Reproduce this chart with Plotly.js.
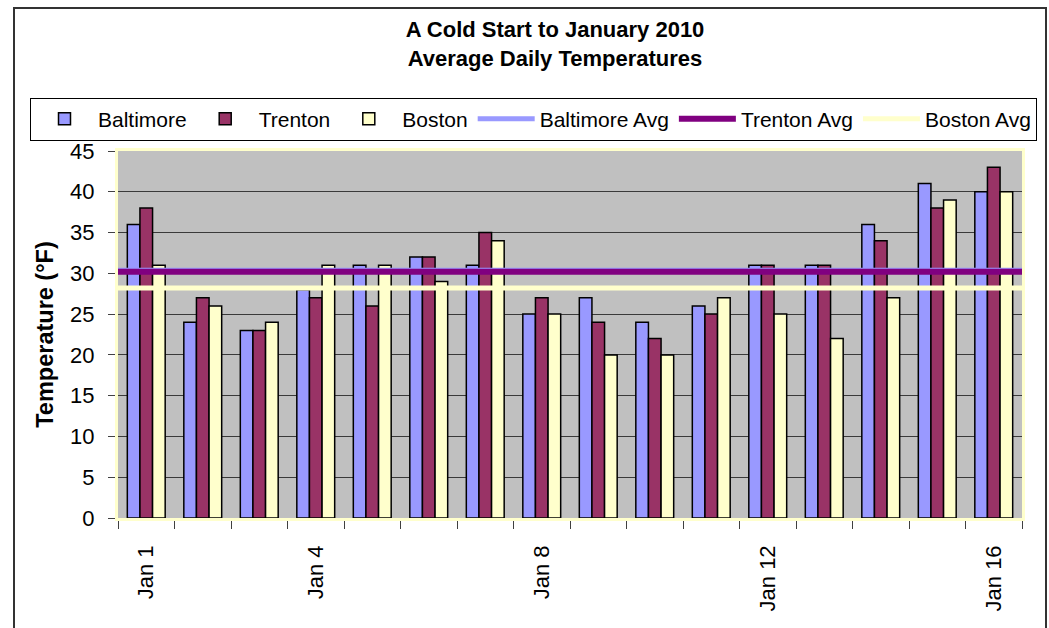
<!DOCTYPE html>
<html>
<head>
<meta charset="utf-8">
<script src="https://cdn.plot.ly/plotly-3.0.1.min.js"></script>
<style>
  html, body { margin: 0; padding: 0; background: #ffffff; }
  #chart { width: 1049px; height: 628px; }
</style>
</head>
<body>
<div id="chart"></div>
<script>
// ---- data ----
const days = ["Jan 1","Jan 2","Jan 3","Jan 4","Jan 5","Jan 6","Jan 7","Jan 8",
              "Jan 9","Jan 10","Jan 11","Jan 12","Jan 13","Jan 14","Jan 15","Jan 16"];
const baltimore = [36, 24, 23, 28, 31, 32, 31, 25, 27, 24, 26, 31, 31, 36, 41, 40];
const trenton   = [38, 27, 23, 27, 26, 32, 35, 27, 24, 22, 25, 31, 31, 34, 38, 43];
const boston    = [31, 26, 24, 31, 31, 29, 34, 25, 20, 20, 27, 25, 22, 27, 39, 40];
const labeledDays = ["Jan 1", "Jan 4", "Jan 8", "Jan 12", "Jan 16"];
const yTicks = [0, 5, 10, 15, 20, 25, 30, 35, 40, 45];

const mean = a => a.reduce((s, v) => s + v, 0) / a.length;

const FONT = "Liberation Sans, Arial, sans-serif";
const colBalt = "#9999FF", colTren = "#993366", colBos = "#FFFFCC";

function barTrace(name, vals, color) {
  return {
    type: "bar", name: name, x: days, y: vals,
    marker: { color: color, line: { color: "#000000", width: 1.5 } },
    xaxis: "x", yaxis: "y", hoverinfo: "x+y+name"
  };
}
function avgTrace(name, vals, color, width) {
  const m = mean(vals);
  return {
    type: "scatter", mode: "lines", name: name,
    x: [0.5, days.length + 0.5], y: [m, m],
    line: { color: color, width: width },
    xaxis: "x2", yaxis: "y", hoverinfo: "y+name"
  };
}

const traces = [
  barTrace("Baltimore", baltimore, colBalt),
  barTrace("Trenton", trenton, colTren),
  barTrace("Boston", boston, colBos),
  avgTrace("Baltimore Avg", baltimore, colBalt, 5),
  avgTrace("Trenton Avg", trenton, "#800080", 6),
  avgTrace("Boston Avg", boston, colBos, 5)
];

const L = 118, R = 27, T = 151, B = 110;
const W = 1049, H = 628;
const pw = W - L - R, ph = H - T - B;
const px = x => (x - L) / pw;          // pixel -> paper x
const py = y => (H - B - y) / ph;      // pixel -> paper y

const layout = {
  width: W, height: H,
  margin: { l: L, r: R, t: T, b: B, pad: 0 },
  paper_bgcolor: "#ffffff",
  plot_bgcolor: "#C0C0C0",
  font: { family: FONT, color: "#000000", size: 20 },
  title: {
    text: "A Cold Start to January 2010<br>Average Daily Temperatures",
    font: { family: FONT, size: 22, weight: "bold", color: "#000000" },
    xref: "container", yref: "container",
    x: 555 / W, xanchor: "center",
    y: 1 - 37 / H, yanchor: "middle"
  },
  barmode: "group",
  bargap: 0.33,
  bargroupgap: 0,
  showlegend: true,
  legend: {
    orientation: "h",
    x: px(30), xanchor: "left",
    y: py(119), yanchor: "middle",
    bgcolor: "#ffffff",
    bordercolor: "#000000", borderwidth: 1,
    font: { family: FONT, size: 21, color: "#000000" },
    itemwidth: 57,
    traceorder: "normal"
  },
  xaxis: {
    type: "category",
    categoryorder: "array", categoryarray: days,
    range: [-0.5, days.length - 0.5],
    tickson: "boundaries",
    ticks: "outside", ticklen: 8, tickcolor: "#404040", tickwidth: 1,
    showticklabels: false,
    showgrid: false, zeroline: false,
    showline: true, linecolor: "#FFFFCC", linewidth: 3, mirror: true,
    fixedrange: true
  },
  xaxis2: {
    overlaying: "x", side: "bottom",
    type: "linear",
    range: [0.5, days.length + 0.5],
    tickmode: "array",
    tickvals: labeledDays.map(d => days.indexOf(d) + 1),
    ticktext: labeledDays,
    tickangle: -90,
    ticks: "", showgrid: false, zeroline: false, showline: false,
    tickfont: { family: FONT, size: 22, color: "#000000" },
    ticklabelstandoff: 22,
    fixedrange: true
  },
  yaxis: {
    range: [0, 45],
    tickmode: "array", tickvals: yTicks,
    ticks: "outside", ticklen: 7, tickcolor: "#404040", tickwidth: 1,
    tickfont: { family: FONT, size: 22, color: "#000000" },
    ticklabelstandoff: 9,
    showgrid: true, gridcolor: "#3a3a3a", gridwidth: 1,
    zeroline: true, zerolinecolor: "#3a3a3a", zerolinewidth: 1,
    showline: true, linecolor: "#FFFFCC", linewidth: 3, mirror: true,
    title: {
      text: "Temperature (°F)",
      font: { family: FONT, size: 23.5, weight: "bold", color: "#000000" },
      standoff: 10
    },
    fixedrange: true
  },
  shapes: [
    { type: "rect", xref: "paper", yref: "paper",
      x0: px(14), x1: px(1046), y0: py(640), y1: py(8),
      line: { color: "#333333", width: 2 }, fillcolor: "rgba(0,0,0,0)", layer: "below" }
  ]
};

Plotly.newPlot("chart", traces, layout, { displayModeBar: false, staticPlot: true });
</script>
</body>
</html>
